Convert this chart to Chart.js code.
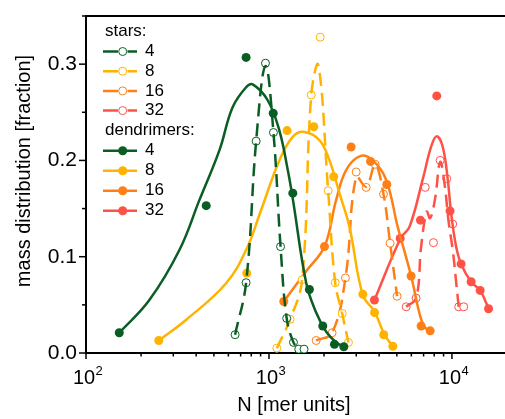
<!DOCTYPE html>
<html>
<head>
<meta charset="utf-8">
<script src="https://cdn.jsdelivr.net/npm/chart.js"></script>
<style>
  body { margin: 0; background: #fff; }
  #wrap { width: 505px; height: 419px; }
</style>
</head>
<body>
<div id="wrap"><canvas id="myChart" width="505" height="419"></canvas></div>
<script>
// colours for the four arm numbers
const armLabels = ['4', '8', '16', '32']
const armColors = ['#0a5e24', '#ffb300', '#ff7f17', '#ff5247']

// measured points, dendrimers (filled)
const d4N = [152, 454, 750, 1055, 1350, 1663, 1968, 2280, 2565]
const d4F = [0.021, 0.153, 0.307, 0.249, 0.166, 0.066, 0.028, 0.009, 0.0065]
const d8N = [250, 756, 1256, 1758, 2259, 3260, 3777, 4238, 4753]
const d8F = [0.013, 0.083, 0.231, 0.235, 0.183, 0.061, 0.042, 0.019, 0.007]
const d16N = [1205, 2010, 2812, 3590, 4405, 5982, 6787, 7606]
const d16F = [0.0535, 0.1105, 0.214, 0.199, 0.175, 0.080, 0.028, 0.023]
const d32N = [3772, 5212, 6729, 8262, 9767, 11220, 12730, 14270, 15850]
const d32F = [0.055, 0.119, 0.138, 0.267, 0.1475, 0.0925, 0.074, 0.065, 0.046]

// measured points, stars (open)
const s4N = [653, 750, 851, 957, 1058, 1157, 1250, 1361, 1455, 1555]
const s4F = [0.019, 0.073, 0.220, 0.301, 0.229, 0.1105, 0.036, 0.011, 0.004, 0.004]
const s8N = [1104, 1305, 1517, 1702, 1905, 2106, 2301, 2513, 2718]
const s8F = [0.005, 0.035, 0.076, 0.268, 0.328, 0.1685, 0.073, 0.041, 0.011]
const s16N = [1811, 2213, 2618, 2996, 3398, 3803, 4226, 4592, 5015]
const s16F = [0.013, 0.021, 0.078, 0.188, 0.172, 0.196, 0.165, 0.114, 0.059]
const s32N = [5623, 6373, 7148, 7925, 8621, 9367, 10090, 10890, 11600]
const s32F = [0.048, 0.057, 0.172, 0.1146, 0.200, 0.181, 0.134, 0.048, 0.048]

// fitted curves, dendrimers (solid)
const fd4N = [152, 222, 324, 417, 537, 632, 750, 815, 984, 1140, 1267, 1350, 1597, 1811, 2055, 2330, 2565]
const fd4F = [0.021, 0.055, 0.107, 0.159, 0.211, 0.255, 0.276, 0.279, 0.2625, 0.231, 0.190, 0.160, 0.073, 0.042, 0.022, 0.011, 0.0065]
const fd8N = [250, 353, 583, 750, 906, 1140, 1349, 1563, 1888, 2142, 2428, 2754, 3260, 3777, 4279, 4753]
const fd8F = [0.013, 0.0345, 0.0725, 0.107, 0.1485, 0.200, 0.2245, 0.2296, 0.221, 0.200, 0.166, 0.131, 0.060, 0.043, 0.019, 0.007]
const fd16N = [1205, 1597, 2010, 2330, 2641, 3150, 3693, 4365, 5055, 5982, 6640, 7080, 7606]
const fd16F = [0.0535, 0.085, 0.1105, 0.159, 0.190, 0.2045, 0.200, 0.180, 0.131, 0.080, 0.0415, 0.027, 0.023]
const fd32N = [3772, 5232, 5860, 6918, 7690, 8260, 8910, 9490, 9900, 10540, 11220, 12730, 14270, 15850]
const fd32F = [0.055, 0.119, 0.131, 0.180, 0.214, 0.225, 0.214, 0.180, 0.145, 0.1105, 0.0925, 0.074, 0.065, 0.046]

// fitted curves, stars (dashed)
const fs4N = [653, 750, 851, 957, 1058, 1157, 1250, 1361, 1455]
const fs4F = [0.019, 0.073, 0.220, 0.298, 0.229, 0.1105, 0.036, 0.011, 0.004]
const fs8N = [1104, 1305, 1517, 1702, 1862, 2106, 2301, 2513, 2718]
const fs8F = [0.005, 0.035, 0.076, 0.268, 0.299, 0.1685, 0.073, 0.041, 0.011]
const fs16N = [1811, 2213, 2618, 2996, 3398, 3803, 4226, 4592, 5015]
const fs16F = [0.013, 0.021, 0.078, 0.183, 0.1727, 0.195, 0.165, 0.114, 0.059]
const fs32N = [5623, 6373, 6787, 7285, 7600, 8093, 8621, 9100, 9570, 10130, 10580, 10890]
const fs32F = [0.048, 0.057, 0.1105, 0.1467, 0.140, 0.1606, 0.1985, 0.1765, 0.138, 0.105, 0.071, 0.048]

const xDecades = [100, 1000, 10000]
const yTicks = [0, 0.1, 0.2, 0.3]

const FONT = '"Liberation Sans", Arial, sans-serif'

function pts(N, F) {
    return N.map((n, i) => ({x: n, y: F[i]}))
}

const dendPts = [[d4N, d4F], [d8N, d8F], [d16N, d16F], [d32N, d32F]]
const starPts = [[s4N, s4F], [s8N, s8F], [s16N, s16F], [s32N, s32F]]
const dendFit = [[fd4N, fd4F], [fd8N, fd8F], [fd16N, fd16F], [fd32N, fd32F]]
const starFit = [[fs4N, fs4F], [fs8N, fs8F], [fs16N, fs16F], [fs32N, fs32F]]

const datasets = []
for (let i = 0; i < 4; i++) {
    const c = armColors[i]
    datasets.push({
        label: 'dendrimer fit ' + armLabels[i],
        data: pts(...dendFit[i]),
        showLine: true, pointRadius: 0, borderColor: c, borderWidth: 2.5, tension: 0.4
    })
    datasets.push({
        label: 'star fit ' + armLabels[i],
        data: pts(...starFit[i]),
        showLine: true, pointRadius: 0, borderColor: c, borderWidth: 2.5, borderDash: [13, 7], tension: 0.4
    })
    datasets.push({
        label: 'dendrimers ' + armLabels[i],
        data: pts(...dendPts[i]),
        showLine: false, pointRadius: 4.5, pointBackgroundColor: c, pointBorderColor: c, pointBorderWidth: 0
    })
    datasets.push({
        label: 'stars ' + armLabels[i],
        data: pts(...starPts[i]),
        showLine: false, pointRadius: 4, pointBackgroundColor: '#fff', pointBorderColor: c, pointBorderWidth: 1
    })
}

// ticks, axis labels, top frame line and the legend
const decorations = {
    id: 'decorations',
    afterDraw(chart) {
        const ctx = chart.ctx
        const {left, right, top, bottom} = chart.chartArea
        const xs = chart.scales.x
        const ys = chart.scales.y
        ctx.save()
        ctx.strokeStyle = '#000'
        ctx.fillStyle = '#000'
        ctx.lineWidth = 2
        ctx.beginPath()
        ctx.moveTo(left - 1, top)
        ctx.lineTo(right, top)
        ctx.stroke()

        // x ticks
        ctx.lineWidth = 1.5
        for (const d of xDecades) {
            for (let m = 1; m <= 9; m++) {
                const v = d * m
                if (v > xs.max) continue
                const px = xs.getPixelForValue(v)
                ctx.beginPath()
                ctx.moveTo(px, bottom)
                ctx.lineTo(px, bottom + (m === 1 ? 6 : 3.5))
                ctx.stroke()
            }
            const px = xs.getPixelForValue(d)
            const exp = String(Math.round(Math.log10(d)))
            ctx.font = '20px ' + FONT
            ctx.textAlign = 'center'
            ctx.textBaseline = 'alphabetic'
            ctx.fillText('10', px - 2, 383.5)
            ctx.font = '13px ' + FONT
            ctx.textAlign = 'left'
            ctx.fillText(exp, px - 2 + 11.5, 375)
        }

        // y ticks
        for (let k = 0; k <= 7; k++) {
            const v = k * 0.05
            if (v > ys.max + 1e-9) continue
            const py = ys.getPixelForValue(v)
            ctx.beginPath()
            ctx.moveTo(left, py)
            ctx.lineTo(left - (k % 2 === 0 ? 7 : 4), py)
            ctx.stroke()
        }

        // axis titles
        ctx.font = '20px ' + FONT
        ctx.textAlign = 'center'
        ctx.textBaseline = 'middle'
        ctx.fillText('N [mer units]', 294, 405)
        ctx.save()
        ctx.translate(24, 171)
        ctx.rotate(-Math.PI / 2)
        ctx.fillText('mass distribution [fraction]', 0, 0)
        ctx.restore()

        // legend
        ctx.font = '17px ' + FONT
        ctx.textAlign = 'left'
        ctx.textBaseline = 'middle'
        ctx.fillText('stars:', 105, 31)
        ctx.fillText('dendrimers:', 105, 130)
        for (let i = 0; i < 4; i++) {
            const c = armColors[i]
            // stars row
            let y = 51.5 + i * 19.7
            ctx.strokeStyle = c
            ctx.lineWidth = 2.5
            ctx.beginPath()
            ctx.moveTo(103, y); ctx.lineTo(118, y)
            ctx.moveTo(127.5, y); ctx.lineTo(137, y)
            ctx.stroke()
            ctx.lineWidth = 1
            ctx.fillStyle = '#fff'
            ctx.beginPath()
            ctx.arc(122.7, y, 4, 0, 2 * Math.PI)
            ctx.fill(); ctx.stroke()
            ctx.fillStyle = '#000'
            ctx.fillText(armLabels[i], 145, y)
            // dendrimers row
            y = 150.7 + i * 20
            ctx.lineWidth = 2.5
            ctx.beginPath()
            ctx.moveTo(103, y); ctx.lineTo(137, y)
            ctx.stroke()
            ctx.fillStyle = c
            ctx.beginPath()
            ctx.arc(122.7, y, 4.5, 0, 2 * Math.PI)
            ctx.fill()
            ctx.fillStyle = '#000'
            ctx.fillText(armLabels[i], 145, y)
        }
        ctx.restore()
    }
}

const ctx = document.getElementById('myChart').getContext('2d')
const massChart = new Chart(ctx, {
    type: 'scatter',
    data: { datasets: datasets },
    options: {
        responsive: false,
        animation: false,
        layout: { autoPadding: false, padding: { top: 16, right: 0, left: 0, bottom: 0 } },
        plugins: {
            legend: { display: false },
            tooltip: { enabled: false }
        },
        scales: {
            x: {
                type: 'logarithmic',
                min: 100,
                max: 19500,
                grid: { display: false, drawTicks: false },
                border: { color: '#000', width: 2 },
                ticks: { display: false },
                afterFit: (s) => { s.height = 66; s.paddingLeft = 0; s.paddingRight = 0 }
            },
            y: {
                min: 0,
                max: 0.35,
                grid: { display: false, drawTicks: false },
                border: { color: '#000', width: 2 },
                afterBuildTicks: (s) => { s.ticks = yTicks.map(v => ({value: v})) },
                ticks: {
                    padding: 9,
                    color: '#000',
                    font: { family: FONT, size: 21 },
                    callback: (v) => v.toFixed(1)
                },
                afterFit: (s) => { s.width = 86; s.paddingTop = 0; s.paddingBottom = 0 }
            }
        }
    },
    plugins: [decorations]
})
</script>
</body>
</html>
